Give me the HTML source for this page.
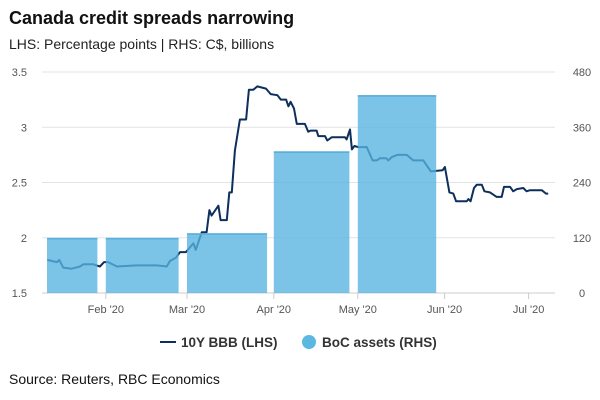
<!DOCTYPE html>
<html><head><meta charset="utf-8"><style>
body{margin:0;background:#fff;font-family:"Liberation Sans",sans-serif;}
#wrap{position:relative;width:600px;height:400px;overflow:hidden}
</style></head><body>
<div id="wrap">
<svg id="chart" width="600" height="400">
<text x="9" y="24" font-size="18" font-weight="bold" fill="#111">Canada credit spreads narrowing</text>
<text x="9" y="49" font-size="14" fill="#222">LHS: Percentage points | RHS: C$, billions</text>
<g id="grid"></g><g id="lineg"></g><g id="bars"></g><g id="axes"></g>
<g>
<g><line x1="160" y1="342" x2="176" y2="342" stroke="#0d2f5c" stroke-width="2"/><text x="181" y="347" font-size="13.5" font-weight="bold" fill="#333">10Y BBB (LHS)</text></g>
<g><circle cx="309" cy="342" r="7" fill="#5bb8e0"/><text x="322" y="347" font-size="13.5" font-weight="bold" fill="#333">BoC assets (RHS)</text></g>
</g>
<text x="9" y="384" font-size="14" fill="#111">Source: Reuters, RBC Economics</text>
</svg></div>
<script>
const lhsTicks=[1.5,2,2.5,3,3.5];
const lhsTickLabels=["1.5","2","2.5","3","3.5"];
const rhsTicks=[0,120,240,360,480];
const monthDays=[31,60,91,121,152,182];
const monthLabels=["Feb '20","Mar '20","Apr '20","May '20","Jun '20","Jul '20"];
const barStart=[10,31,60,91,121];
const barEnd=[28,57,88.6,118,149];
const barValues=[120,120,130,308,430];
const lineDays=[10.1,13.5,14.4,15.8,18.8,21.8,23.0,26.5,28.9,30.4,31.8,35.0,42.0,49.2,52.8,53.9,56.1,57.5,59.6,62.3,63.1,65.3,67.0,68.0,68.8,71.2,72.0,74.2,75.1,76.0,77.1,78.9,81.1,82.1,83.7,85.1,88.2,89.9,92.3,93.5,95.4,96.2,97.0,98.2,99.2,102.1,103.3,104.2,106.3,106.9,109.3,110.1,111.7,116.4,117.0,118.2,118.9,119.8,121.2,124.2,126.3,127.8,128.9,131.1,131.9,133.1,135.1,138.5,140.8,144.4,147.1,151.3,152.1,153.7,155.1,156.1,159.9,160.5,161.3,162.5,163.5,165.3,166.2,168.2,170.6,172.4,173.2,175.4,176.5,177.8,180.1,181.3,182.5,186.7,188.2,189.0];
const lineValues=[1.80,1.78,1.80,1.73,1.72,1.74,1.76,1.76,1.74,1.78,1.78,1.74,1.75,1.75,1.74,1.79,1.82,1.87,1.87,1.95,1.89,2.05,2.05,2.25,2.20,2.29,2.16,2.16,2.41,2.41,2.79,3.07,3.07,3.34,3.34,3.37,3.35,3.30,3.29,3.25,3.25,3.19,3.23,3.17,3.03,3.03,2.96,2.97,2.97,2.92,2.92,2.88,2.91,2.91,2.89,2.98,2.80,2.83,2.82,2.82,2.70,2.70,2.72,2.72,2.70,2.73,2.75,2.75,2.70,2.70,2.60,2.61,2.64,2.41,2.40,2.33,2.33,2.35,2.33,2.45,2.48,2.48,2.42,2.41,2.37,2.37,2.46,2.46,2.42,2.44,2.45,2.42,2.43,2.43,2.40,2.40];
const NS="http://www.w3.org/2000/svg";
const X0=19,PPD=2.8,Y0=293,Y1=72,PL=42,PR=555;
const xs=d=>X0+d*PPD;
const yl=v=>Y0-(v-1.5)/2*(Y0-Y1);
const yr=v=>Y0-v/480*(Y0-Y1);
function mk(t,a,p){const e=document.createElementNS(NS,t);for(const k in a)e.setAttribute(k,a[k]);p.appendChild(e);return e;}
const grid=document.getElementById('grid'),axes=document.getElementById('axes');
lhsTicks.forEach((v,i)=>{
 const g=mk('line',{x1:PL,x2:PR,y1:yl(v),y2:yl(v),stroke:i==0?'#ccc':'#e3e3e3','stroke-width':1},grid);
 
 
 const t=mk('text',{x:27,y:yl(v)+4,'font-size':11,fill:'#555','text-anchor':'end'},axes);t.textContent=lhsTickLabels[i];
 
 
});
rhsTicks.forEach(v=>{
 const t=mk('text',{x:582,y:yr(v)+4,'font-size':11,fill:'#555','text-anchor':'middle'},axes);t.textContent=v;
 
 
});
monthDays.forEach((d,i)=>{
 mk('line',{x1:xs(d),x2:xs(d),y1:Y0,y2:Y0+6,stroke:'#ccc'},axes);
 const t=mk('text',{x:xs(d),y:313,'font-size':11,fill:'#555','text-anchor':'middle'},axes);t.textContent=monthLabels[i];
 
 
});
const lg=document.getElementById('lineg');
const pts=lineDays.map((d,i)=>xs(d).toFixed(1)+','+yl(lineValues[i]).toFixed(1)).join(' ');
const pl=mk('polyline',{points:pts,fill:'none',stroke:'#0d2f5c','stroke-width':2,'stroke-linejoin':'round'},lg);


const bg=document.getElementById('bars');
barValues.forEach((v,i)=>{
 const r=mk('rect',{x:xs(barStart[i]),y:yr(v),width:xs(barEnd[i])-xs(barStart[i]),height:Y0-yr(v),fill:'rgb(86,180,224)','fill-opacity':0.78},bg);
 
 
 mk('line',{x1:xs(barStart[i]),x2:xs(barEnd[i]),y1:yr(v)+1,y2:yr(v)+1,stroke:'#5aafdb','stroke-width':1.5},bg);
});
</script>
</body></html>
